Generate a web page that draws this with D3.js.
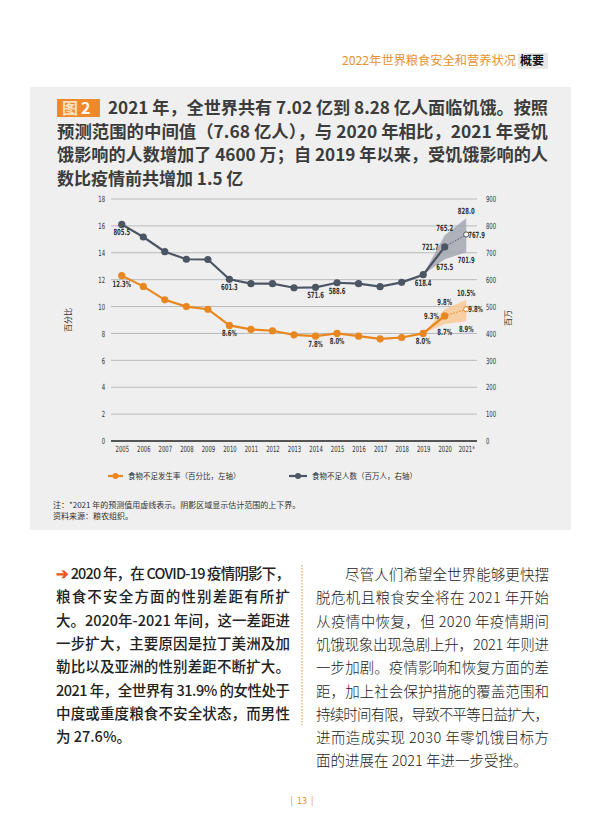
<!DOCTYPE html>
<html>
<head>
<meta charset="utf-8">
<script src="https://cdn.jsdelivr.net/npm/d3@7"></script>
<style>
  body { margin:0; background:#fff; }
  svg text { font-family:"Noto Sans CJK SC", sans-serif; }
  svg text.num { font-family:"Liberation Sans Narrow","DejaVu Sans Condensed","Liberation Sans",sans-serif; }
</style>
</head>
<body>
<script>
// data
var years = ["2005","2006","2007","2008","2009","2010","2011","2012","2013","2014","2015","2016","2017","2018","2019","2020","2021*"];
var pou = [12.3,11.5,10.5,10.0,9.8,8.6,8.3,8.2,7.9,7.8,8.0,7.8,7.6,7.7,8.0,9.3,9.8];
var nou = [805.5,758.6,704.0,676.0,675.0,601.3,585.0,585.0,570.0,571.6,588.6,585.0,574.0,590.0,618.4,721.7,767.9];
var rangeYears = ["2019","2020","2021*"];
var pouLow = [8.0,8.7,8.9], pouHigh = [8.0,9.8,10.5];
var nouLow = [618.4,675.5,701.9], nouHigh = [618.4,765.2,828.0];
var leftTicks = [0,2,4,6,8,10,12,14,16,18];
var rightTicks = [0,100,200,300,400,500,600,700,800,900];

// value labels: [year, axis, value, text, where]
var labels = [
  ["2005","r",805.5,"805.5","below"],["2010","r",601.3,"601.3","below"],["2014","r",571.6,"571.6","below"],
  ["2015","r",588.6,"588.6","below"],["2019","r",618.4,"618.4","below"],["2020","r",721.7,"721.7","left"],
  ["2020","r",765.2,"765.2","above"],["2020","r",675.5,"675.5","below"],["2021*","r",828.0,"828.0","above"],
  ["2021*","r",767.9,"767.9","right"],["2021*","r",701.9,"701.9","below"],
  ["2005","l",12.3,"12.3%","below"],["2010","l",8.6,"8.6%","below"],["2014","l",7.8,"7.8%","below"],
  ["2015","l",8.0,"8.0%","below"],["2019","l",8.0,"8.0%","below"],["2020","l",9.3,"9.3%","left"],
  ["2020","l",9.8,"9.8%","above"],["2020","l",8.7,"8.7%","below"],["2021*","l",10.5,"10.5%","above"],
  ["2021*","l",9.8,"9.8%","right"],["2021*","l",8.9,"8.9%","below"]
];

var titleLines = [
  "2021 年，全世界共有 7.02 亿到 8.28 亿人面临饥饿。按照",
  "预测范围的中间值（7.68 亿人），与 2020 年相比，2021 年受饥",
  "饿影响的人数增加了 4600 万；自 2019 年以来，受饥饿影响的人",
  "数比疫情前共增加 1.5 亿"
];
var leftText = [
  " 2020 年，在 COVID-19 疫情阴影下，",
  "粮食不安全方面的性别差距有所扩",
  "大。2020年-2021 年间，这一差距进",
  "一步扩大，主要原因是拉丁美洲及加",
  "勒比以及亚洲的性别差距不断扩大。",
  "2021 年，全世界有 31.9% 的女性处于",
  "中度或重度粮食不安全状态，而男性",
  "为 27.6%。"
];
var rightText = [
  "尽管人们希望全世界能够更快摆",
  "脱危机且粮食安全将在 2021 年开始",
  "从疫情中恢复，但 2020 年疫情期间",
  "饥饿现象出现急剧上升，2021 年则进",
  "一步加剧。疫情影响和恢复方面的差",
  "距，加上社会保护措施的覆盖范围和",
  "持续时间有限，导致不平等日益扩大，",
  "进而造成实现 2030 年零饥饿目标方",
  "面的进展在 2021 年进一步受挫。"
];

var orange = "#e8861f", slate = "#4b5563";

var svg = d3.select("body").append("svg")
  .attr("width",604).attr("height",831);

svg.append("rect").attr("width",604).attr("height",831).attr("fill","#fff");

// header
svg.append("text").attr("x",342).attr("y",65)
  .attr("font-size",12).attr("fill","#e8912d")
  .attr("textLength",174).attr("lengthAdjust","spacingAndGlyphs")
  .text("2022年世界粮食安全和营养状况");
svg.append("rect").attr("x",518).attr("y",53).attr("width",30).attr("height",16).attr("fill","#e9e9e9");
svg.append("text").attr("x",520).attr("y",65)
  .attr("font-size",12).attr("font-weight","bold").attr("fill","#111")
  .text("概要");

// panel
svg.append("rect").attr("x",30).attr("y",87).attr("width",541).attr("height",443).attr("fill","#efefef");

// title
svg.append("rect").attr("x",57).attr("y",99).attr("width",43).attr("height",18).attr("fill","#ee8a2a");
svg.append("text").attr("x",62).attr("y",114).attr("font-size",16).attr("font-weight","bold")
  .attr("fill","#fbe0c2").text("图")
  .append("tspan").attr("fill","#fff").attr("dx",3).text("2");

svg.selectAll("text.title").data(titleLines).enter().append("text")
  .attr("class","title")
  .attr("x",function(d,i){return i==0 ? 108 : 57})
  .attr("y",function(d,i){return 114 + i*23.5})
  .attr("font-size",17).attr("font-weight","bold").attr("fill","#3c3c3c")
  .attr("textLength",function(d,i){return i==0 ? 440 : (i<3 ? 491 : null)})
  .attr("lengthAdjust","spacingAndGlyphs")
  .text(function(d){return d});

// scales
var x = d3.scalePoint().domain(years).range([111,477]).padding(0.5);
var yL = d3.scaleLinear().domain([0,18]).range([441,199]);
var yR = d3.scaleLinear().domain([0,900]).range([441,199]);

var chart = svg.append("g");

// grid
chart.selectAll("line.grid").data(leftTicks.slice(1)).enter().append("line")
  .attr("x1",111).attr("x2",477)
  .attr("y1",function(d){return yL(d)}).attr("y2",function(d){return yL(d)})
  .attr("stroke","#b9b9b9").attr("stroke-width",1);
chart.append("line").attr("x1",111).attr("x2",477).attr("y1",yL(0)).attr("y2",yL(0))
  .attr("stroke","#555").attr("stroke-width",2);

// axes (text only)
var axL = d3.axisLeft(yL).tickValues(leftTicks).tickSize(0).tickPadding(6);
var axR = d3.axisRight(yR).tickValues(rightTicks).tickSize(0).tickPadding(9);
var axB = d3.axisBottom(x).tickSize(0).tickPadding(5);
[[axL,"translate(111,0)"],[axR,"translate(477,0)"],[axB,"translate(0,441)"]].forEach(function(a){
  var g = chart.append("g").attr("transform",a[1]).call(a[0]);
  g.select(".domain").remove();
  g.attr("font-family",null).attr("font-size",null);
  g.selectAll("text").attr("class","num").attr("font-size",8.5).attr("fill","#333");
});

chart.append("text").attr("transform","translate(71,320) rotate(-90)")
  .attr("text-anchor","middle").attr("font-size",8).attr("fill","#333").text("百分比");
chart.append("text").attr("transform","translate(511,318) rotate(-90)")
  .attr("text-anchor","middle").attr("font-size",8).attr("fill","#333").text("百万");

// range bands
var bandR = d3.area().x(function(d,i){return x(rangeYears[i])})
  .y0(function(d,i){return yR(nouLow[i])}).y1(function(d,i){return yR(nouHigh[i])});
var bandL = d3.area().x(function(d,i){return x(rangeYears[i])})
  .y0(function(d,i){return yL(pouLow[i])}).y1(function(d,i){return yL(pouHigh[i])});
chart.append("path").datum(rangeYears).attr("d",bandR).attr("fill","#a3a7b2").attr("opacity",0.85);
chart.append("path").datum(rangeYears).attr("d",bandL).attr("fill","#f9c994").attr("opacity",0.85);

// lines
function drawSeries(vals, y, col) {
  var line = d3.line().x(function(d,i){return x(years[i])}).y(function(d){return y(d)});
  var n = vals.length;
  chart.append("path").datum(vals.slice(0,n-1)).attr("d",line)
    .attr("fill","none").attr("stroke",col).attr("stroke-width",2.2);
  chart.append("line")
    .attr("x1",x(years[n-2])).attr("y1",y(vals[n-2]))
    .attr("x2",x(years[n-1])).attr("y2",y(vals[n-1]))
    .attr("stroke",col).attr("stroke-width",1).attr("stroke-dasharray","1.5,1.5");
  chart.selectAll(null).data(vals.slice(0,n-1)).enter().append("circle")
    .attr("cx",function(d,i){return x(years[i])}).attr("cy",function(d){return y(d)})
    .attr("r",3.6).attr("fill",col);
  chart.append("circle").attr("cx",x(years[n-1])).attr("cy",y(vals[n-1]))
    .attr("r",2.6).attr("fill","#fff").attr("stroke",col).attr("stroke-width",1);
}
drawSeries(nou, yR, slate);
drawSeries(pou, yL, orange);

// value labels
chart.selectAll("text.lab").data(labels).enter().append("text")
  .attr("class","num")
  .attr("x",function(d){
    var px = x(d[0]);
    return d[4]=="left" ? px-6 : d[4]=="right" ? px+2 : px;
  })
  .attr("y",function(d){
    var py = (d[1]=="r" ? yR : yL)(d[2]);
    return d[4]=="below" ? py+11 : d[4]=="above" ? py-4 : py+3;
  })
  .attr("text-anchor",function(d){return d[4]=="left" ? "end" : d[4]=="right" ? "start" : "middle"})
  .attr("font-size",8.5).attr("font-weight","bold").attr("fill","#333")
  .text(function(d){return d[3]});

// squeeze number texts to the narrow face of the original (scale about their anchor x)
var probe = svg.append("text").attr("class","num").attr("font-size",8.5).text("2005");
var squeeze = 13.5 / probe.node().getComputedTextLength();
probe.remove();
if (squeeze < 1) {
  chart.selectAll("text.num").each(function(){
    var tx = +d3.select(this).attr("x") || 0;
    d3.select(this).attr("transform","translate(" + tx*(1-squeeze) + ",0) scale(" + squeeze + ",1)");
  });
}

// legend
var legend = [["食物不足发生率（百分比，左轴）",orange,108,15],["食物不足人数（百万人，右轴）",slate,289,18]];
legend.forEach(function(l){
  chart.append("line").attr("x1",l[2]).attr("x2",l[2]+l[3]).attr("y1",476).attr("y2",476)
    .attr("stroke",l[1]).attr("stroke-width",2.2);
  chart.append("circle").attr("cx",l[2]+l[3]/2).attr("cy",476).attr("r",3).attr("fill",l[1]);
  chart.append("text").attr("x",l[2]+l[3]+5).attr("y",479).attr("font-size",7.5).attr("fill","#333").text(l[0]);
});

// notes
svg.append("text").attr("x",53).attr("y",508).attr("font-size",8).attr("fill","#333")
  .text("注：*2021 年的预测值用虚线表示。阴影区域显示估计范围的上下界。");
svg.append("text").attr("x",53).attr("y",519).attr("font-size",8).attr("fill","#333")
  .text("资料来源：粮农组织。");

// body text
var lt = svg.selectAll("text.lt").data(leftText).enter().append("text")
  .attr("class","lt")
  .attr("x",56).attr("y",function(d,i){return 579 + i*23.3})
  .attr("font-size",14.5).attr("font-weight",500).attr("fill","#222")
  .attr("textLength",function(d,i){return i<7 ? 234 : null})
  .attr("lengthAdjust","spacing");
lt.each(function(d,i){
  var t = d3.select(this);
  if (i==0) t.append("tspan").attr("fill","#e8571f").attr("font-weight","bold").text("➔");
  t.append("tspan").text(d);
});

svg.selectAll("text.rt").data(rightText).enter().append("text")
  .attr("class","rt")
  .attr("x",function(d,i){return i==0 ? 345 : 316})
  .attr("y",function(d,i){return 580 + i*23.3})
  .attr("font-size",14.5).attr("font-weight",300).attr("fill","#222")
  .attr("textLength",function(d,i){return i==0 ? 204 : (i<8 ? 233 : null)})
  .attr("lengthAdjust","spacing")
  .text(function(d){return d});

svg.append("line").attr("x1",302).attr("x2",302).attr("y1",565).attr("y2",725)
  .attr("stroke","#eab57a").attr("stroke-width",1.5).attr("stroke-dasharray","1.5,1.5");

// page number
svg.append("text").attr("x",302).attr("y",804).attr("text-anchor","middle")
  .attr("font-size",9).attr("fill","#e8912d").attr("xml:space","preserve").text("|  13  |");
</script>
</body>
</html>
